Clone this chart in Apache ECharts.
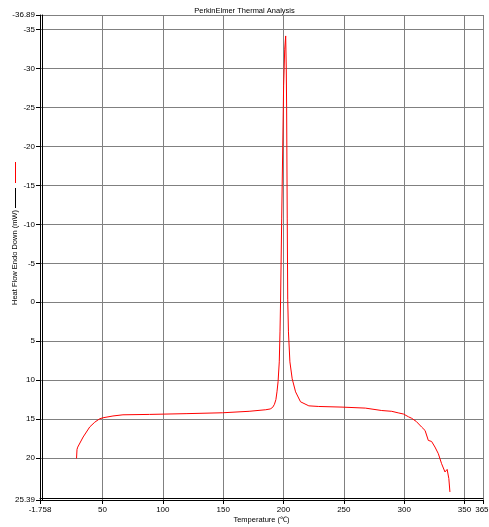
<!DOCTYPE html>
<html>
<head>
<meta charset="utf-8">
<script src="https://cdn.jsdelivr.net/npm/echarts@6/dist/echarts.min.js"></script>
<style>
html,body{margin:0;padding:0;background:#fff;}
#chart{width:489px;height:527px;}
</style>
</head>
<body>
<div id="chart"></div>
<script>
// ---- data ----
var temperature = [28.5, 28.9, 29.5, 34.0, 39.5, 43.6, 47.7, 50.5, 58.7, 67.0, 89.0, 120.0, 149.5, 171.5, 185.3, 189.0, 191.0, 192.5, 193.7, 194.6, 195.5, 196.5, 197.1, 197.6, 198.5, 200.1, 201.0, 201.8, 202.3, 202.6, 203.1, 203.5, 204.1, 205.3, 207.2, 210.0, 214.1, 221.0, 229.2, 248.5, 267.8, 281.4, 289.7, 295.0, 299.4, 303.5, 306.2, 310.0, 314.5, 317.3, 320.0, 322.7, 325.5, 328.3, 331.0, 333.8, 335.6, 336.5, 337.0, 337.9];
var heatFlow = [20.05, 18.9, 18.6, 17.3, 16.0, 15.4, 14.96, 14.83, 14.6, 14.45, 14.4, 14.3, 14.19, 14.0, 13.8, 13.7, 13.5, 13.1, 12.5, 11.5, 10.2, 7.65, 3.8, -0.42, -10.7, -27.8, -32.5, -34.2, -30.0, -25.0, -10.7, -0.4, 3.8, 7.65, 9.83, 11.5, 12.78, 13.3, 13.38, 13.46, 13.59, 13.9, 14.0, 14.2, 14.35, 14.7, 14.9, 15.3, 16.03, 16.46, 17.74, 17.87, 18.59, 19.45, 20.73, 21.79, 21.46, 21.59, 22.65, 24.36];

var xMin = -1.758, xMax = 365.3;
var xTickValues = [-1.758, 50, 100, 150, 200, 250, 300, 350, 365.3];
var xTickLabels = ['-1.758', '50', '100', '150', '200', '250', '300', '350', '365.'];
var yMin = -36.89, yMax = 25.39;
var yTickValues = [-36.89, -35, -30, -25, -20, -15, -10, -5, 0, 5, 10, 15, 20, 25.39];
var yTickLabels = ['-36.89', '-35', '-30', '-25', '-20', '-15', '-10', '-5', '0', '5', '10', '15', '20', '25.39'];

var titleText = 'PerkinElmer Thermal Analysis';
var xName = 'Temperature (\u2103)';
var yName = 'Heat Flow Endo Down (mW)';

var points = temperature.map(function (t, i) { return [t, heatFlow[i]]; });

function labelFor(values, labels) {
  return function (v) {
    for (var i = 0; i < values.length; i++) {
      if (Math.abs(values[i] - v) < 1e-6) return labels[i];
    }
    return '';
  };
}

var font = 'Liberation Sans';
var chart = echarts.init(document.getElementById('chart'), null, {renderer: 'canvas'});
chart.setOption({
  animation: false,
  backgroundColor: '#ffffff',
  textStyle: {fontFamily: font},
  title: {
    text: titleText,
    left: 'center',
    top: 2,
    textStyle: {fontFamily: font, fontSize: 7.5, fontWeight: 'normal', color: '#000'}
  },
  grid: {left: 40, right: 6, top: 15, bottom: 27, containLabel: false, outerBoundsMode: 'none'},
  xAxis: [{
    type: 'value',
    min: xMin, max: xMax,
    name: xName,
    nameLocation: 'middle',
    nameGap: 16,
    nameMoveOverlap: false,
    nameTextStyle: {fontFamily: font, fontSize: 7.5, color: '#000'},
    axisLine: {show: true, onZero: false, lineStyle: {color: '#000', width: 1}},
    axisTick: {show: true, inside: false, length: 4, customValues: xTickValues, lineStyle: {color: '#000'}},
    axisLabel: {customValues: xTickValues, formatter: labelFor(xTickValues, xTickLabels), fontFamily: font, fontSize: 8, color: '#000', margin: 6, showMinLabel: true, showMaxLabel: true, hideOverlap: false},
    splitLine: {show: true, lineStyle: {color: '#808080', width: 1}}
  }, {
    type: 'value',
    position: 'bottom',
    offset: -2,
    min: xMin, max: xMax,
    axisLine: {show: true, onZero: false, lineStyle: {color: '#000', width: 1}},
    axisTick: {show: false},
    axisLabel: {show: false},
    splitLine: {show: false}
  }],
  yAxis: [{
    type: 'value',
    inverse: true,
    min: yMin, max: yMax,
    name: yName,
    nameLocation: 'middle',
    nameGap: 21,
    nameMoveOverlap: false,
    nameTextStyle: {fontFamily: font, fontSize: 7.5, color: '#000'},
    axisLine: {show: true, onZero: false, lineStyle: {color: '#000', width: 1}},
    axisTick: {show: true, inside: false, length: 4, customValues: yTickValues, lineStyle: {color: '#000'}},
    axisLabel: {customValues: yTickValues, formatter: labelFor(yTickValues, yTickLabels), fontFamily: font, fontSize: 8, color: '#000', margin: 5, showMinLabel: true, showMaxLabel: true, hideOverlap: false},
    splitLine: {show: true, lineStyle: {color: '#808080', width: 1}}
  }, {
    type: 'value',
    position: 'left',
    offset: -2,
    inverse: true,
    min: yMin, max: yMax,
    axisLine: {show: true, onZero: false, lineStyle: {color: '#000', width: 1}},
    axisTick: {show: false},
    axisLabel: {show: false},
    splitLine: {show: false}
  }],
  graphic: [
    {type: 'line', shape: {x1: 15.5, y1: 188, x2: 15.5, y2: 208}, style: {stroke: '#000', lineWidth: 1}},
    {type: 'line', shape: {x1: 15.5, y1: 162, x2: 15.5, y2: 183}, style: {stroke: '#ff0000', lineWidth: 1}}
  ],
  series: [{
    type: 'line',
    xAxisIndex: 0,
    yAxisIndex: 0,
    data: points,
    showSymbol: false,
    symbol: 'none',
    smooth: false,
    lineStyle: {color: '#ff0000', width: 1},
    z: 5
  }]
});
</script>
</body>
</html>
